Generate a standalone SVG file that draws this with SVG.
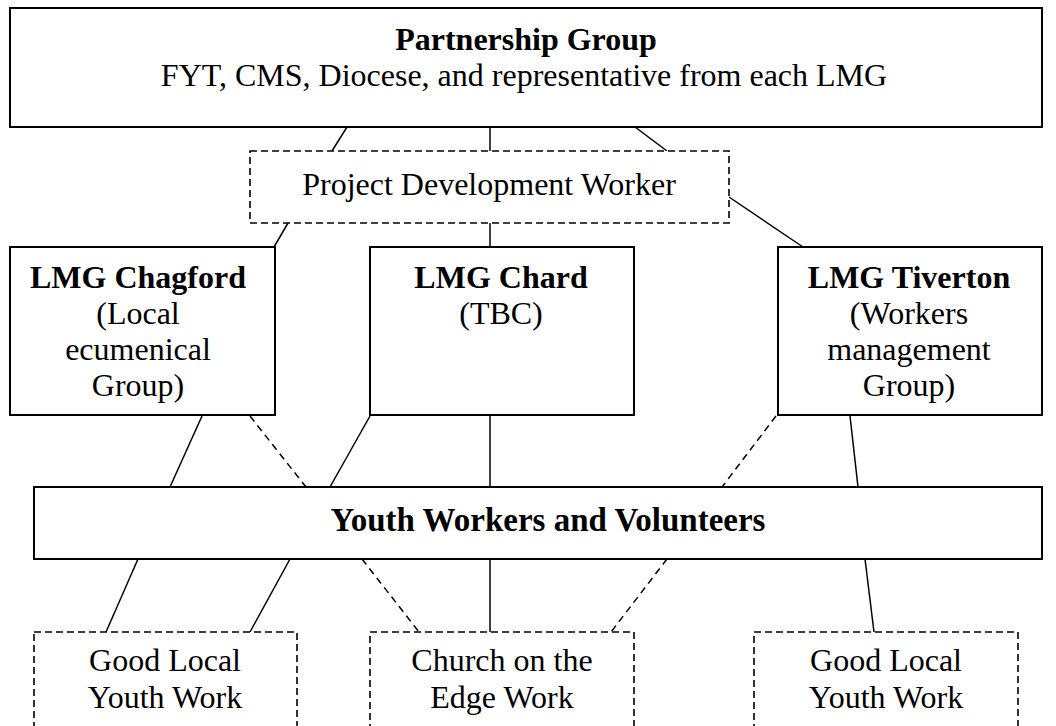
<svg xmlns="http://www.w3.org/2000/svg" width="1056" height="726" viewBox="0 0 1056 726">
<style>
.box{fill:#fff;stroke:#000;stroke-width:2}
.dbox{fill:#fff;stroke:#000;stroke-width:1.6;stroke-dasharray:7,4}
.ln{stroke:#000;stroke-width:1.5;fill:none}
.dl{stroke:#000;stroke-width:1.5;fill:none;stroke-dasharray:7,5}
text{font-family:"Liberation Serif","Times New Roman",serif;font-size:32px;fill:#000;text-anchor:middle}
.b{font-weight:bold}
</style>
<rect width="1056" height="726" fill="#fff"/>
<g id="connectors">
<line class="ln" x1="347" y1="127" x2="332" y2="151"/>
<line class="ln" x1="490" y1="127" x2="490" y2="151"/>
<line class="ln" x1="635" y1="127" x2="667" y2="151"/>
<line class="ln" x1="288" y1="223" x2="274" y2="247"/>
<line class="ln" x1="490" y1="223" x2="490" y2="247"/>
<line class="ln" x1="729" y1="197" x2="803" y2="247"/>
<line class="ln" x1="202" y1="416" x2="170" y2="487"/>
<line class="dl" x1="250" y1="416" x2="306" y2="487"/>
<line class="ln" x1="370" y1="416" x2="330" y2="487"/>
<line class="ln" x1="490" y1="416" x2="490" y2="487"/>
<line class="dl" x1="776" y1="416" x2="722" y2="487"/>
<line class="ln" x1="850" y1="416" x2="858" y2="487"/>
<line class="ln" x1="138" y1="559" x2="106" y2="632"/>
<line class="ln" x1="290" y1="559" x2="250" y2="632"/>
<line class="dl" x1="362" y1="559" x2="419" y2="632"/>
<line class="ln" x1="490" y1="559" x2="490" y2="632"/>
<line class="dl" x1="667" y1="559" x2="611" y2="632"/>
<line class="ln" x1="865" y1="559" x2="874" y2="632"/>
</g>
<g id="partnership">
<rect class="box" x="10" y="8" width="1032" height="119"/>
<text class="b" x="526" y="50">Partnership Group</text>
<text x="524" y="86">FYT, CMS, Diocese, and representative from each LMG</text>
</g>
<g id="pdw">
<rect class="dbox" x="250" y="151" width="479" height="72"/>
<text x="489" y="195">Project Development Worker</text>
</g>
<g id="chagford">
<rect class="box" x="10" y="247" width="265" height="168"/>
<text class="b" x="138" y="288">LMG Chagford</text>
<text x="138" y="324">(Local</text>
<text x="138" y="360">ecumenical</text>
<text x="138" y="396">Group)</text>
</g>
<g id="chard">
<rect class="box" x="370" y="247" width="264" height="168"/>
<text class="b" x="501" y="288">LMG Chard</text>
<text x="501" y="324">(TBC)</text>
</g>
<g id="tiverton">
<rect class="box" x="778" y="247" width="264" height="168"/>
<text class="b" x="909" y="288">LMG Tiverton</text>
<text x="909" y="324">(Workers</text>
<text x="909" y="360">management</text>
<text x="909" y="396">Group)</text>
</g>
<g id="youth">
<rect class="box" x="34" y="487" width="1008" height="72"/>
<text class="b" x="548" y="531" style="font-size:33px">Youth Workers and Volunteers</text>
</g>
<g id="good1">
<rect class="dbox" x="34" y="632" width="263" height="110"/>
<text x="165" y="671">Good Local</text>
<text x="165" y="708">Youth Work</text>
</g>
<g id="church">
<rect class="dbox" x="370" y="632" width="264" height="110"/>
<text x="502" y="671">Church on the</text>
<text x="502" y="708">Edge Work</text>
</g>
<g id="good2">
<rect class="dbox" x="754" y="632" width="264" height="110"/>
<text x="886" y="671">Good Local</text>
<text x="886" y="708">Youth Work</text>
</g>
</svg>
